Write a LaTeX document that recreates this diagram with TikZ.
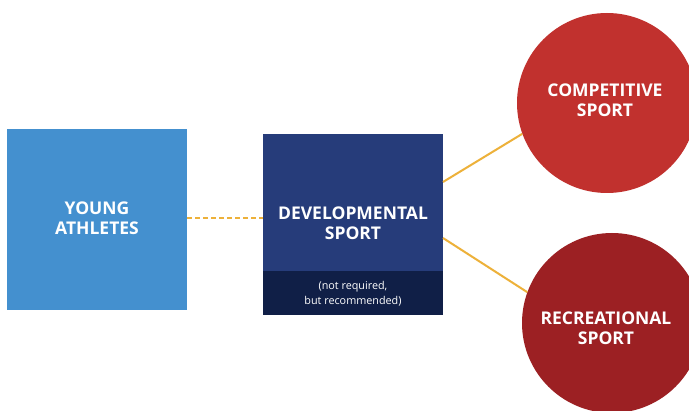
\documentclass[tikz,border=0pt]{standalone}
\usepackage{fontspec}
\setmainfont{Open Sans}
\definecolor{ablue}{HTML}{4490CF}
\definecolor{navy}{HTML}{263C7A}
\definecolor{navydark}{HTML}{101F47}
\definecolor{redA}{HTML}{C1312E}
\definecolor{redB}{HTML}{9C2023}
\definecolor{lineor}{HTML}{EDB13A}
\begin{document}
\begin{tikzpicture}[x=1pt,y=-1pt,
  title/.style={text=white,font=\fontsize{17.5}{20.5}\selectfont\bfseries,align=center},
  conn/.style={draw=lineor,line width=2pt}]
\useasboundingbox (0,0) rectangle (689,411);
\clip (0,0) rectangle (689,411);
\fill[white] (0,0) rectangle (689,411);
% boxes
\node[fill=ablue,minimum width=180pt,minimum height=181pt,inner sep=0pt,anchor=north west] (ya) at (7,129) {};
\node[title] (yat) at (97,218) {YOUNG\\ATHLETES};
\node[fill=navy,minimum width=180pt,minimum height=181pt,inner sep=0pt,anchor=north west] (dev) at (263,134) {};
\fill[navydark] (263,271) rectangle (443,315);
\node[title] (devt) at (353,223) {DEVELOPMENTAL\\SPORT};
\node[text=white,font=\fontsize{10.8}{15.5}\selectfont,align=center] (note) at (353,294) {(not required,\\but recommended)};
% circles
\node[circle,fill=redA,minimum size=180pt,inner sep=0pt] (comp) at (607,103) {};
\node[title] (compt) at (605,100) {COMPETITIVE\\SPORT};
\node[circle,fill=redB,minimum size=180pt,inner sep=0pt] (rec) at (612,323) {};
\node[title] (rect) at (606,328) {RECREATIONAL\\SPORT};
% connectors
\coordinate (d1) at (443,182);
\coordinate (d2) at (443,238);
\draw[conn] (d1) -- (comp.200);
\draw[conn] (d2) -- (rec.160);
\draw[conn,dash pattern=on 5pt off 3pt] (ya.east |- 0,218) -- (dev.west |- 0,218);
\end{tikzpicture}
\end{document}
